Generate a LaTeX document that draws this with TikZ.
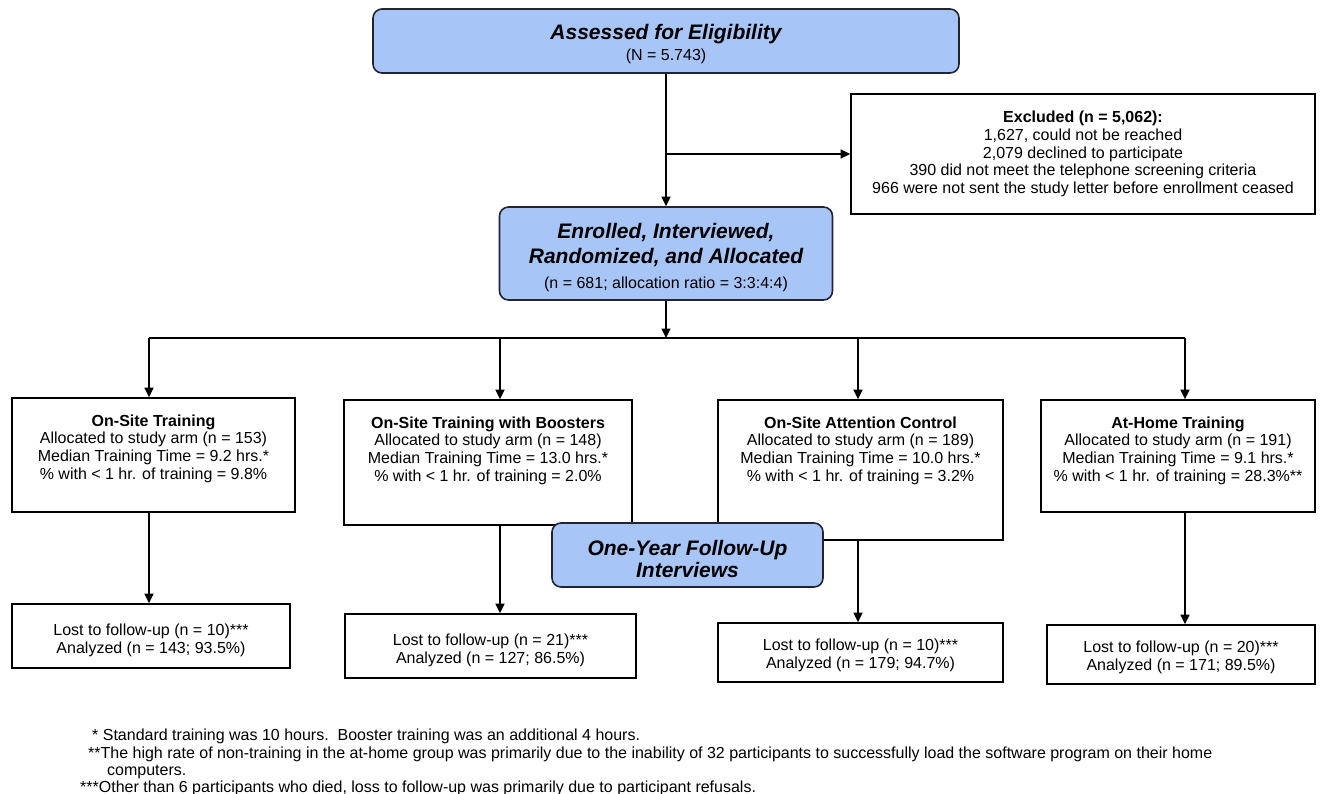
\documentclass[tikz,border=0pt]{standalone}
\usepackage{fontspec}
\setmainfont{Liberation Sans}
\usetikzlibrary{positioning,arrows.meta}
\definecolor{stageblue}{RGB}{168,197,247}
\definecolor{stageedge}{RGB}{35,35,50}
\newcommand{\stagefont}{\bfseries\itshape}
\newcommand{\subfont}{\fontsize{16}{18}\selectfont}
\tikzset{
  % --- boxes -----------------------------------------------------------------
  stage/.style={rectangle,rounded corners=9pt,draw=stageedge,fill=stageblue,
                line width=1.6pt,inner sep=0pt},
  plain/.style={rectangle,draw=black,fill=white,line width=1.6pt,
                align=center,inner sep=2pt,font=\fontsize{16}{17.6}\selectfont},
  % --- texts -----------------------------------------------------------------
  stagetext/.style={align=center,inner sep=0pt,font=\fontsize{21}{24}\selectfont},
  armtext/.style={align=center,inner sep=0pt,font=\fontsize{16}{17.8}\selectfont},
  note/.style={anchor=base west,inner sep=0pt,font=\fontsize{16}{17.5}\selectfont},
  % --- connectors ------------------------------------------------------------
  flow/.style={-{Triangle[length=9.5pt,width=9pt]},line width=1.6pt},
  link/.style={line width=1.6pt},
}
\begin{document}
\begin{tikzpicture}[x=1pt, y=-1pt]
  \path[use as bounding box] (0,0) rectangle (1321,793);

  % screening and enrolment
  \node[stage,minimum width=586pt,minimum height=64pt] (assess) at (666,41) {};
  \node[stagetext] (assesst) at ([yshift=-3pt]assess.center)
    {{\stagefont Assessed for Eligibility}\\[-3pt]{\subfont (N = 5.743)}};
  \node[plain,minimum width=464pt,minimum height=120pt] (excl) at (1083,154)
    {\textbf{Excluded (n = 5,062):}\\1,627, could not be reached\\
     2,079 declined to participate\\
     390 did not meet the telephone screening criteria\\
     966 were not sent the study letter before enrollment ceased};
  \node[stage,minimum width=333pt,minimum height=93pt] (enrol) at (666,253.5) {};
  \node[stagetext] (enrolt) at ([yshift=-4pt]enrol.center)
    {{\stagefont Enrolled, Interviewed,}\\[0.5pt]{\stagefont Randomized, and Allocated}\\[1pt]
     {\subfont (n = 681; allocation ratio = 3:3:4:4)}};

  \coordinate (split) at (666,154);
  \draw[flow] (assess.south) -- (enrol.north);
  \draw[flow] (split) -- (excl.west);

  % allocation bar
  \coordinate (bar) at (666,338);
  \coordinate (j1) at (149,338);
  \coordinate (j2) at (500,338);
  \coordinate (j3) at (858,338);
  \coordinate (j4) at (1185,338);
  \draw[flow] (enrol.south) -- (bar);
  \draw[link] (j1) -- (j4);

  % study arms
  \node[plain,minimum width=283pt,minimum height=114pt] (arm1) at (153.5,455) {};
  \node[plain,minimum width=288pt,minimum height=125pt] (arm2) at (488,462.5) {};
  \node[plain,minimum width=285pt,minimum height=140pt] (arm3) at (860.5,470) {};
  \node[plain,minimum width=274pt,minimum height=112pt] (arm4) at (1178,456) {};
  \node[armtext,below=17pt of arm1.north] (arm1t)
    {\textbf{On-Site Training}\\Allocated to study arm (n = 153)\\
     Median Training Time = 9.2 hrs.*\\\% with < 1 hr. of training = 9.8\%};
  \node[armtext,below=17pt of arm2.north] (arm2t)
    {\textbf{On-Site Training with Boosters}\\Allocated to study arm (n = 148)\\
     Median Training Time = 13.0 hrs.*\\\% with < 1 hr. of training = 2.0\%};
  \node[armtext,below=17pt of arm3.north] (arm3t)
    {\textbf{On-Site Attention Control}\\Allocated to study arm (n = 189)\\
     Median Training Time = 10.0 hrs.*\\\% with < 1 hr. of training = 3.2\%};
  \node[armtext,below=17pt of arm4.north] (arm4t)
    {\textbf{At-Home Training}\\Allocated to study arm (n = 191)\\
     Median Training Time = 9.1 hrs.*\\\% with < 1 hr. of training = 28.3\%**};
  \foreach \k in {1,...,4}
    \draw[flow] (j\k) -- (j\k |- arm\k.north);

  % follow-up
  \node[stage,minimum width=271pt,minimum height=64pt] (follow) at (687.5,555) {};
  \node[stagetext,font=\fontsize{21}{22}\selectfont] (followt)
    at ([yshift=-4pt]follow.center)
    {{\stagefont One-Year Follow-Up}\\{\stagefont Interviews}};
  \node[plain,minimum width=278pt,minimum height=64pt] (lost1) at (151,636) {};
  \node[plain,minimum width=291pt,minimum height=64pt] (lost2) at (490.5,646) {};
  \node[plain,minimum width=285pt,minimum height=59pt] (lost3) at (860.5,652.5) {};
  \node[plain,minimum width=268pt,minimum height=59pt] (lost4) at (1181,654.5) {};
  \node[armtext] (lost1t) at ([yshift=-4pt]lost1.center)
    {Lost to follow-up (n = 10)***\\Analyzed (n = 143; 93.5\%)};
  \node[armtext] (lost2t) at ([yshift=-4pt]lost2.center)
    {Lost to follow-up (n = 21)***\\Analyzed (n = 127; 86.5\%)};
  \node[armtext] (lost3t) at ([yshift=-3pt]lost3.center)
    {Lost to follow-up (n = 10)***\\Analyzed (n = 179; 94.7\%)};
  \node[armtext] (lost4t) at ([yshift=-3pt]lost4.center)
    {Lost to follow-up (n = 20)***\\Analyzed (n = 171; 89.5\%)};
  \foreach \k in {1,...,4}
    \draw[flow] (j\k |- arm\k.south) -- (j\k |- lost\k.north);

  % footnotes
  \node[note] (fn1) at (92,740)
    {* Standard training was 10 hours.\ \ Booster training was an additional 4 hours.};
  \node[note] (fn2) at (88,758)
    {**The high rate of non-training in the at-home group was primarily due to the inability of 32 participants to successfully load the software program on their home};
  \node[note] (fn2b) at (107,775) {computers.};
  \node[note] (fn3) at (80,792)
    {***Other than 6 participants who died, loss to follow-up was primarily due to participant refusals.};
\end{tikzpicture}
\end{document}
